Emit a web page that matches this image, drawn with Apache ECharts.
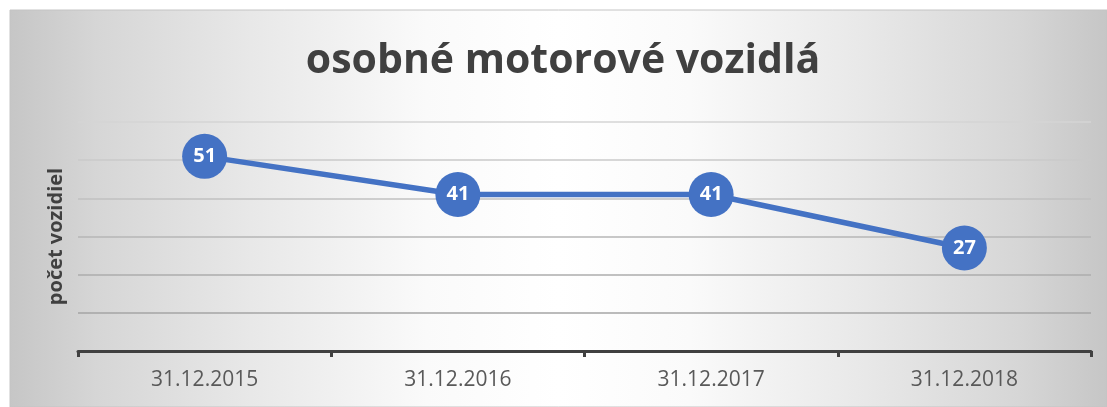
<!DOCTYPE html>
<html>
<head>
<meta charset="utf-8">
<script src="https://cdn.jsdelivr.net/npm/echarts@6/dist/echarts.min.js"></script>
<style>
  html, body { margin: 0; padding: 0; background: #fff; }
  #chart { width: 1107px; height: 407px; }
</style>
</head>
<body>
<div id="chart"></div>
<script>
const categories = ["31.12.2015", "31.12.2016", "31.12.2017", "31.12.2018"];
const counts = [51, 41, 41, 27];
const titleText = "osobné motorové vozidlá";
const yAxisName = "počet vozidiel";

const blue = "#4472C4";
const chart = echarts.init(document.getElementById("chart"));

chart.setOption({
  animation: false,
  graphic: [{
    type: "rect",
    z: -100,
    shape: { x: 10, y: 10, width: 1097, height: 397 },
    style: {
      fill: {
        type: "linear", x: 0, y: 0, x2: 1, y2: 0,
        colorStops: [
          { offset: 0, color: "#c6c6c6" },
          { offset: 0.08, color: "#d6d6d6" },
          { offset: 0.22, color: "#e8e8e8" },
          { offset: 0.38, color: "#fafafa" },
          { offset: 0.5, color: "#ffffff" },
          { offset: 0.62, color: "#fafafa" },
          { offset: 0.78, color: "#e8e8e8" },
          { offset: 0.92, color: "#d6d6d6" },
          { offset: 1, color: "#c6c6c6" }
        ]
      },
      stroke: "#c4c4c4",
      lineWidth: 1
    }
  }],
  title: {
    text: titleText,
    left: 558,
    textAlign: "center",
    top: 36,
    textStyle: { fontFamily: "Open Sans", fontWeight: "bold", fontSize: 41, color: "#404040" }
  },
  grid: { left: 78, right: 16, top: 122, bottom: 56 },
  xAxis: {
    type: "category",
    data: categories,
    boundaryGap: true,
    axisLine: { lineStyle: { color: "#404040", width: 3 } },
    axisTick: { show: true, length: 6, lineStyle: { color: "#404040", width: 3 } },
    axisLabel: { margin: 19, fontFamily: "Open Sans", fontSize: 21, color: "#595959" }
  },
  yAxis: {
    type: "value",
    min: 0,
    max: 60,
    interval: 10,
    name: yAxisName,
    nameLocation: "middle",
    nameGap: 12,
    nameTextStyle: { fontFamily: "Open Sans", fontWeight: "bold", fontSize: 20, color: "#404040" },
    axisLabel: { show: false },
    axisLine: { show: false },
    axisTick: { show: false },
    splitLine: {
      lineStyle: {
        width: 1.5,
        color: ["#a0a0a0", "#a4a4a4", "#acacac", "#b6b6b6", "#c0c0c0", "#cacaca", "#d4d4d4"]
      }
    }
  },
  series: [{
    type: "line",
    data: counts,
    symbol: "circle",
    symbolSize: 45,
    itemStyle: { color: blue },
    lineStyle: { color: blue, width: 5.5 },
    label: {
      show: true,
      position: "inside",
      color: "#ffffff",
      fontFamily: "Open Sans",
      fontWeight: "bold",
      fontSize: 20
    }
  }]
});
</script>
</body>
</html>
